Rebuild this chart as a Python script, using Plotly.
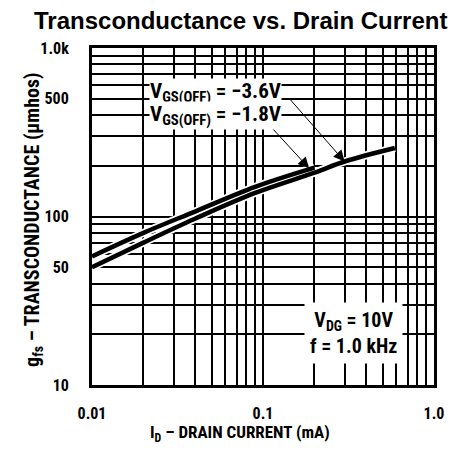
import numpy as np
import plotly.graph_objects as go

# ---- data ----
id_18 = [0.01, 0.02, 0.04, 0.09, 0.2]          # mA, VGS(OFF) = -1.8 V
gfs_18 = [58, 80, 107, 150, 195]                # umhos
id_36 = [0.01, 0.02, 0.04, 0.09, 0.2, 0.3, 0.59]  # mA, VGS(OFF) = -3.6 V
gfs_36 = [50, 70, 97, 138, 182, 212, 255]

x_tickvals = [0.01, 0.1, 1.0]
x_ticktext = ["0.01", "0.1", "1.0"]
y_tickvals = [10, 50, 100, 500, 1000]
y_ticktext = ["10", "50", "100", "500", "1.0k"]

x_minor = [m * d for d in (0.01, 0.1) for m in range(2, 10)]
y_minor = [m * d for d in (10, 100) for m in range(2, 10) if m * d not in (50, 500)]

NARROW = "Liberation Sans Narrow, Roboto Condensed, Arial Narrow, Liberation Sans, sans-serif"

fig = go.Figure()
# white halo beneath the curves
for xs, ys in ((id_36, gfs_36), (id_18, gfs_18)):
    fig.add_trace(go.Scatter(x=xs, y=ys, mode="lines", line=dict(color="white", width=8, shape="spline"),
                             hoverinfo="skip", showlegend=False))
for xs, ys, nm in ((id_36, gfs_36, "-3.6V"), (id_18, gfs_18, "-1.8V")):
    fig.add_trace(go.Scatter(x=xs, y=ys, mode="lines", name=nm,
                             line=dict(color="black", width=4.5, shape="spline"), showlegend=False))

axis_common = dict(
    type="log", showgrid=True, gridcolor="black", gridwidth=1.5,
    showline=True, linecolor="black", linewidth=3, mirror=True, automargin=False,
    ticks="", tickfont=dict(family=NARROW, size=16, color="black", weight="bold"),
    zeroline=False,
)
fig.update_xaxes(range=[np.log10(0.01), np.log10(1.0)], tickmode="array",
                 tickvals=x_tickvals, ticktext=x_ticktext, ticklabelstandoff=12,
                 minor=dict(tickmode="array", tickvals=x_minor, showgrid=True,
                            gridcolor="black", gridwidth=1.5, ticks=""),
                 **axis_common)
fig.update_yaxes(range=[np.log10(10), np.log10(1000)], tickmode="array",
                 tickvals=y_tickvals, ticktext=y_ticktext, ticklabelstandoff=17,
                 minor=dict(tickmode="array", tickvals=y_minor, showgrid=True,
                            gridcolor="black", gridwidth=1.5, ticks=""),
                 **axis_common)

ann_font = dict(family=NARROW, size=21, color="black", weight="bold")
annotations = [
    # curve labels
    dict(x=np.log10(0.053), y=np.log10(548), xref="x", yref="y", showarrow=False,
         text="V<sub>GS(OFF)</sub> = −3.6V", font=ann_font, bgcolor="white",
         xanchor="center", yanchor="middle", borderpad=0),
    dict(x=np.log10(0.053), y=np.log10(395), xref="x", yref="y", showarrow=False,
         text="V<sub>GS(OFF)</sub> = −1.8V", font=ann_font, bgcolor="white",
         xanchor="center", yanchor="middle", borderpad=0),
    # arrows
    dict(x=np.log10(id_36[5]), y=np.log10(gfs_36[5]), xref="x", yref="y",
         ax=np.log10(0.14), ay=np.log10(512), axref="x", ayref="y", text="",
         showarrow=True, arrowhead=2, arrowsize=2.2, arrowwidth=1, arrowcolor="black"),
    dict(x=np.log10(id_18[4] * 0.93), y=np.log10(gfs_18[4] * 0.99), xref="x", yref="y",
         ax=np.log10(0.113), ay=np.log10(335), axref="x", ayref="y", text="",
         showarrow=True, arrowhead=2, arrowsize=2.2, arrowwidth=1, arrowcolor="black"),
    # conditions box
    dict(x=0.765, y=0.153, xref="paper", yref="paper", showarrow=False,
         text="V<sub>DG</sub> = 10V<br>f = 1.0 kHz", align="center",
         xanchor="center", yanchor="middle",
         font=dict(family=NARROW, size=20, color="black", weight="bold"),
         bgcolor="white", borderpad=5),
    # axis titles
    dict(x=-0.1725, y=0.49, xref="paper", yref="paper", showarrow=False, textangle=-90,
         xanchor="center", yanchor="middle",
         text="g<sub>fs</sub> – TRANSCONDUCTANCE (μmhos)",
         font=dict(family=NARROW, size=20, color="black", weight="bold")),
    dict(x=0.433, y=-0.145, xref="paper", yref="paper", showarrow=False,
         xanchor="center", yanchor="middle",
         text="I<sub>D</sub> – DRAIN CURRENT (mA)",
         font=dict(family=NARROW, size=17, color="black", weight="bold")),
    # chart title
    dict(x=0.433, y=1.081, xref="paper", yref="paper", showarrow=False,
         xanchor="center", yanchor="middle",
         text="<b>Transconductance vs. Drain Current</b>",
         font=dict(family="Liberation Sans, Arial, sans-serif", size=24, color="black")),
]

# the page body adds an 8px offset, so the figure is sized to fit the window
fig.update_layout(
    width=461, height=452,
    margin=dict(l=84, r=35, t=40, b=75),
    paper_bgcolor="white", plot_bgcolor="white",
    annotations=annotations,
)

fig.write_html("out.html")
